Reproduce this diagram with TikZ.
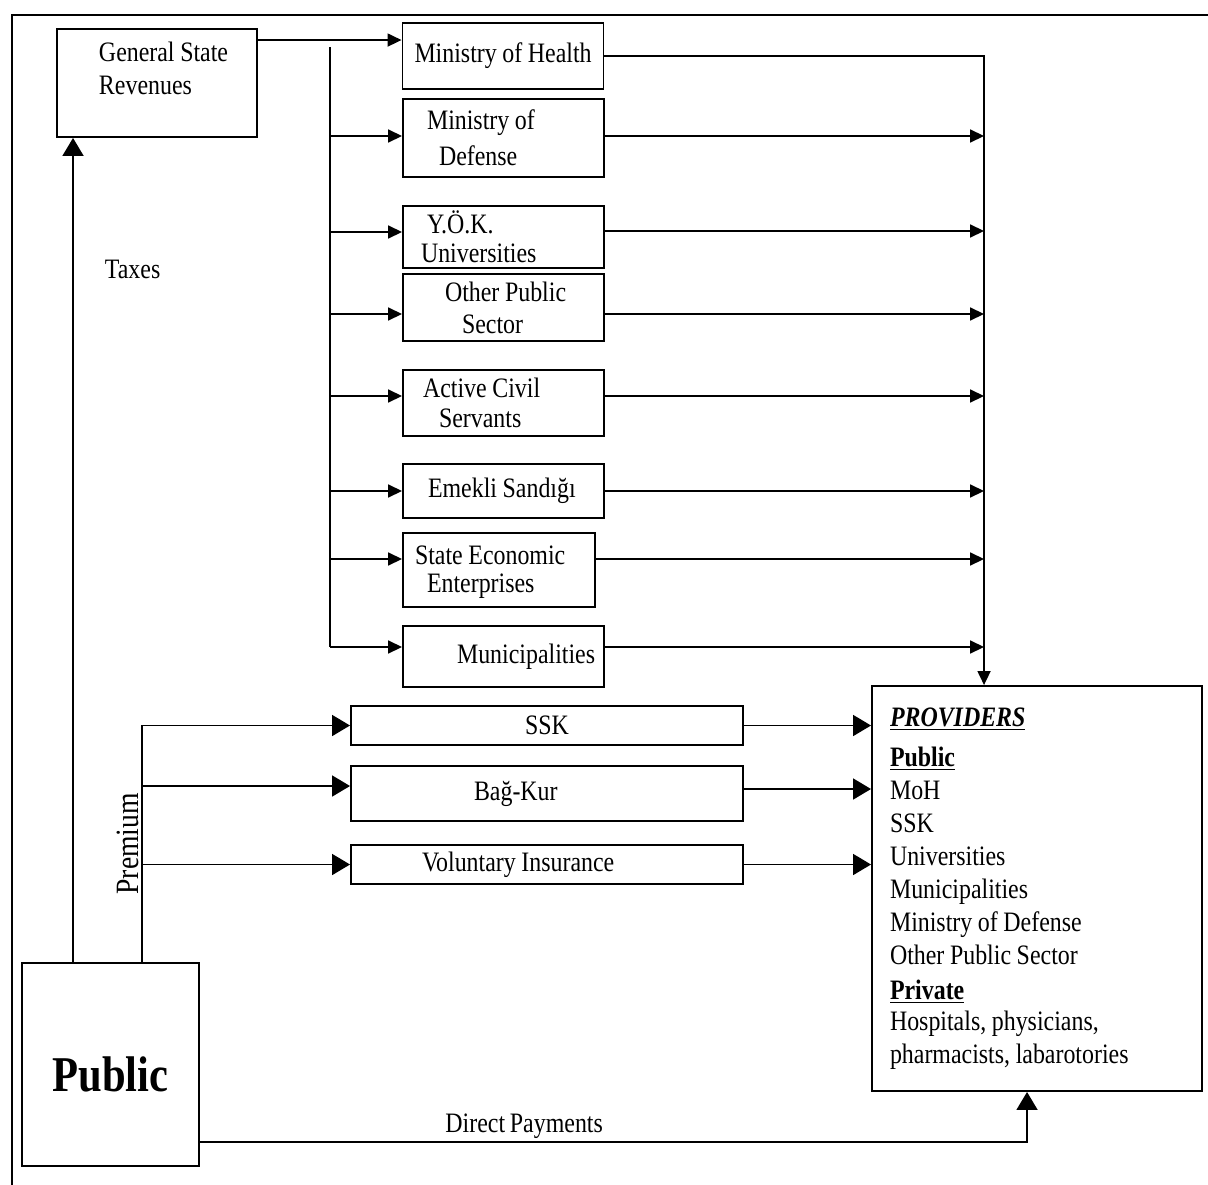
\documentclass[tikz,border=0pt]{standalone}
\usepackage{fontspec}
\setmainfont[FakeStretch=0.85, WordSpace=0.8]{Liberation Serif}
\usetikzlibrary{arrows.meta}

\tikzset{
  box/.style={draw, line width=1.1pt, inner xsep=0pt, inner ysep=1pt, align=left,
    execute at begin node={\spaceskip=3.2pt plus 1pt minus 1pt\relax}},
  fund/.style={box, text width=40.2mm, minimum height=#1},
  ins/.style={box, text width=78.4mm, minimum height=#1},
  flow/.style={line width=1pt, -{Triangle[length=2.8mm,width=2.6mm]}},
  bigflow/.style={line width=1pt, -{Triangle[length=3.6mm,width=4.2mm]}},
}

\begin{document}
\begin{tikzpicture}[x=0.2mm, y=-0.2mm, font=\fontsize{16pt}{18.8pt}\selectfont]
    \useasboundingbox (0,0) rectangle (1208,1185);
    \draw[line width=1.3pt] (12,1185) -- (12,15) -- (1208,15);

    % sources
    \node[box, text width=40mm, minimum height=21.6mm] (gsr) at (157,83)
    {\hspace*{8.4mm}General State\\\hspace*{8.4mm}Revenues\\[-0.7mm]\mbox{}};
    \node[box, minimum width=35.4mm, minimum height=40.6mm, text height=10.8mm,
      font=\fontsize{28.5pt}{30pt}\selectfont\bfseries] (pub) at (110.5,1064.5) {Public};

    % budget funded
    \node[fund=13.2mm] (moh) at (503,56) {\hspace*{2.4mm}Ministry of Health};
    \node[fund=15.6mm] (mod) at (503.5,138) {\hspace*{4.8mm}Ministry of\\[0.6mm]\hspace*{7.2mm}Defense};
    \node[fund=12.4mm] (yok) at (503.5,237) {\hspace*{4.8mm}Y.Ö.K.\\[-0.8mm]\hspace*{3.6mm}Universities};
    \node[fund=13.4mm] (ops) at (503.5,307.5) {\hspace*{8.4mm}Other Public\\[-0.2mm]\hspace*{11.8mm}Sector};
    \node[fund=13.2mm] (acs) at (503.5,403) {\hspace*{4mm}Active Civil\\[-0.6mm]\hspace*{7.2mm}Servants};
    \node[fund=10.8mm] (ems) at (503.5,491) {\hspace*{5mm}Emekli Sandığı};
    \node[box, text width=38.4mm, minimum height=14.8mm] (see) at (499,570)
    {\mbox{}\\[-2.2mm]\hspace*{2.4mm}State Economic\\[-1mm]\hspace*{4.8mm}Enterprises};
    \node[fund=12.2mm] (mun) at (503.5,656.5) {\hspace*{10.8mm}Municipalities};

    % insurance
    \node[ins=7.8mm] (ssk) at (547,725.5) {\hspace*{34.8mm}SSK};
    \node[ins=11mm] (bag) at (547,793.5) {\hspace*{24.6mm}Bağ-Kur};
    \node[ins=7.8mm] (vol) at (547,864.5) {\hspace*{14.2mm}Voluntary Insurance};

    \node[box, text width=58.8mm, inner xsep=3.6mm, minimum height=81mm] (prov) at (1037,888.5)
    {\textbf{\textit{\underline{PROVIDERS}}}\\[1.4mm]
     \textbf{\underline{Public}}\\
     MoH\\
     SSK\\
     Universities\\
     Municipalities\\
     Ministry of Defense\\
     Other Public Sector\\[0.4mm]
     \textbf{\underline{Private}}\\[-0.4mm]
     Hospitals, physicians,\\[-0.2mm]
     pharmacists, labarotories};

    \coordinate (bus) at (330,47);
    \coordinate (coll) at ([xshift=22.6mm]prov.north west);
    \coordinate (pbus) at ([xshift=24.2mm]pub.north west);

    % taxes
    \draw[bigflow] ([xshift=3.4mm]gsr.south west |- pub.north) --
      node[right=6.2mm, pos=0.84, inner sep=0pt] (taxes) {Taxes} ([xshift=3.4mm]gsr.south west);
    \draw[flow] ([yshift=-2.4mm]gsr.north east) -- ([yshift=-2.4mm]gsr.north east -| moh.west);
    \draw[line width=1pt] (bus) -- (bus |- 0,647);
    \draw[flow] (moh.east) -| (coll);
    \foreach \b/\y/\z in {mod/136/136, yok/232/231, ops/314/314, acs/396/396,
                          ems/491/491, see/559/559, mun/647/647}
    {
    \draw[flow] (bus |- 0,\y) -- (\b.west |- 0,\y);
    \draw[flow] (\b.east |- 0,\z) -- (coll |- 0,\z);
    }

    % premiums
    \draw[bigflow] (pbus) |- node[rotate=90, anchor=south, pos=0.25, inner sep=0.4mm,
      font=\fontsize{18.5pt}{20pt}\selectfont] (prem) {Premium} (ssk.west);
    \draw[bigflow] (pbus |- 0,786) -- (bag.west |- 0,786);
    \draw[bigflow] (pbus |- vol.west) -- (vol.west);
    \draw[bigflow] (ssk.east) -- (ssk.east -| prov.west);
    \draw[bigflow] (bag.east |- 0,789) -- (prov.west |- 0,789);
    \draw[bigflow] (vol.east) -- (vol.east -| prov.west);

    % out of pocket
    \draw[bigflow] ([yshift=-15.5mm]pub.east) -| node[above, pos=0.196, inner sep=0.6mm] (direct)
      {Direct Payments} ([xshift=31.2mm]prov.south west);
\end{tikzpicture}
\end{document}
